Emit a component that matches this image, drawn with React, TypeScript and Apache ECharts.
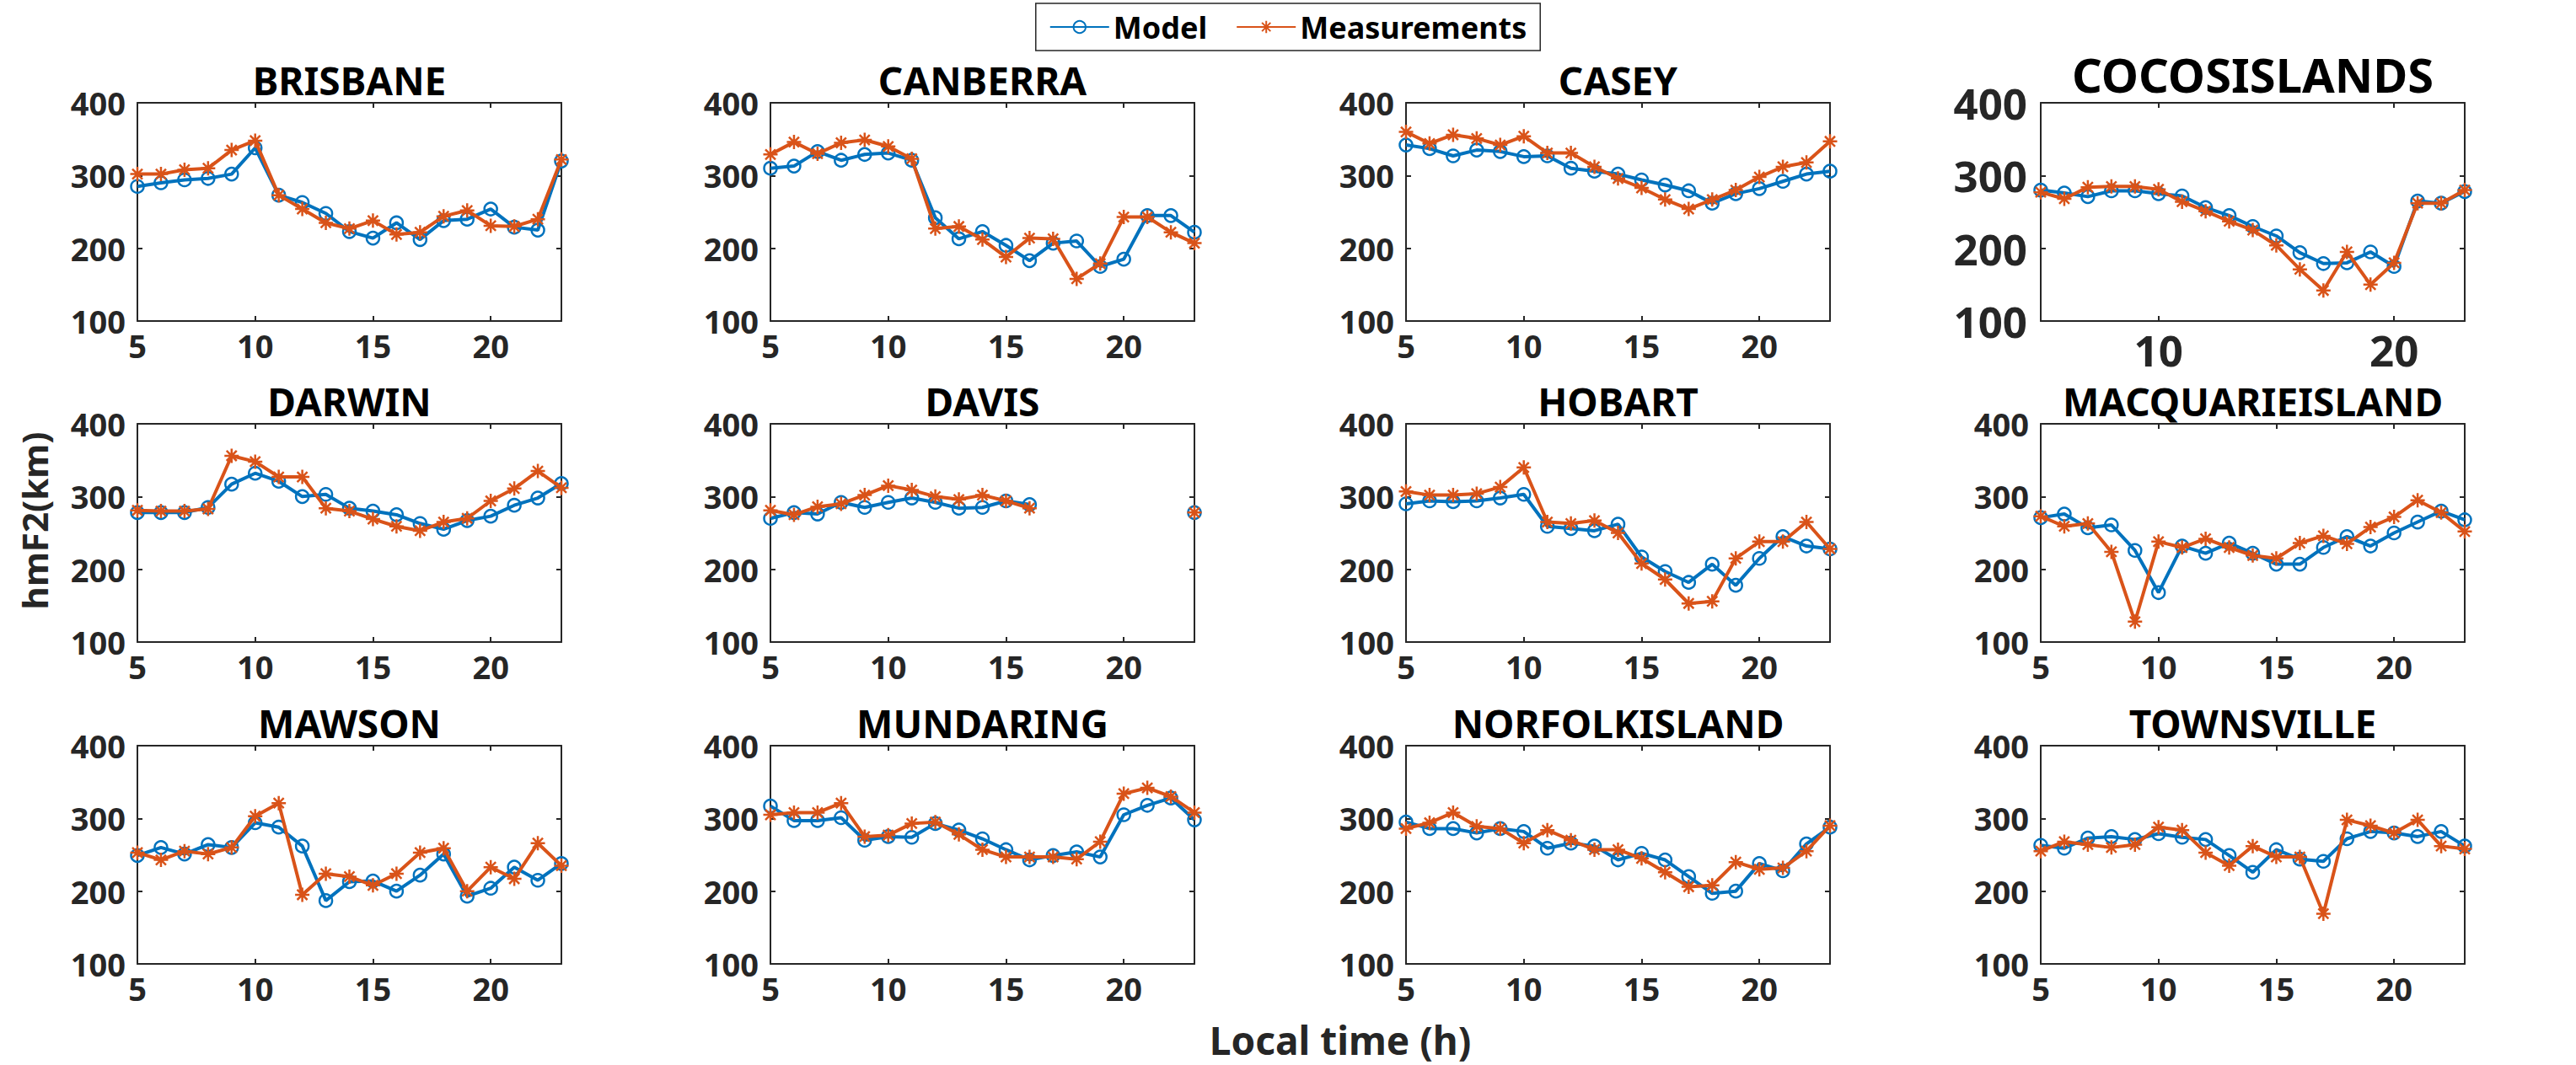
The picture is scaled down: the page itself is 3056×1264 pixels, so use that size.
import React, { useEffect, useRef } from "react";
import * as echarts from "echarts";

const hours = [5, 6, 7, 8, 9, 10, 11, 12, 13, 14, 15, 16, 17, 18, 19, 20, 21, 22, 23];
const xTickValues = [5, 10, 15, 20];
const xTickValuesBig = [10, 20];
const yTicks = { min: 100, max: 400, interval: 100 };

const stationNames = [
  "BRISBANE", "CANBERRA", "CASEY", "COCOSISLANDS",
  "DARWIN", "DAVIS", "HOBART", "MACQUARIEISLAND",
  "MAWSON", "MUNDARING", "NORFOLKISLAND", "TOWNSVILLE",
];

const brisbaneModel = [285, 290, 294, 296, 302, 338, 273, 263, 248, 223, 214, 235, 212, 238, 240, 254, 229, 225, 320];
const brisbaneMeas = [302, 302, 308, 310, 335, 348, 273, 254, 235, 227, 238, 219, 222, 244, 252, 231, 230, 240, 322];
const canberraModel = [310, 313, 333, 321, 329, 331, 321, 242, 213, 223, 204, 183, 207, 210, 175, 185, 245, 245, 222];
const canberraMeas = [329, 346, 330, 345, 349, 340, 323, 227, 230, 212, 188, 214, 213, 158, 179, 243, 243, 222, 207];
const caseyModel = [342, 337, 327, 335, 333, 326, 327, 310, 306, 302, 294, 287, 279, 262, 275, 282, 292, 302, 306];
const caseyMeas = [360, 344, 356, 351, 342, 354, 331, 331, 312, 296, 283, 267, 254, 267, 280, 298, 312, 318, 347];
const cocosModel = [280, 276, 271, 279, 279, 275, 272, 256, 245, 230, 217, 194, 179, 180, 195, 175, 265, 262, 278];
const cocosMeas = [277, 268, 284, 285, 285, 281, 264, 251, 237, 225, 204, 171, 142, 195, 150, 180, 262, 262, 280];
const darwinModel = [278, 278, 278, 285, 317, 332, 321, 300, 303, 284, 280, 275, 263, 255, 267, 273, 288, 298, 318];
const darwinMeas = [281, 280, 280, 283, 356, 348, 327, 327, 284, 280, 269, 259, 253, 265, 270, 294, 311, 335, 312];
const davisModel = [270, 278, 276, 292, 285, 292, 298, 292, 284, 285, 294, 289, null, null, null, null, null, null, 278];
const davisMeas = [281, 275, 286, 290, 302, 315, 309, 300, 296, 302, 294, 284, null, null, null, null, null, null, 278];
const hobartModel = [290, 294, 293, 294, 298, 303, 259, 256, 253, 262, 217, 197, 182, 207, 178, 215, 245, 232, 228];
const hobartMeas = [307, 302, 302, 304, 313, 340, 265, 263, 267, 250, 208, 186, 153, 156, 215, 238, 238, 265, 228];
const macquarieModel = [271, 276, 257, 261, 226, 168, 232, 222, 236, 222, 207, 207, 230, 245, 232, 250, 265, 280, 268];
const macquarieMeas = [273, 259, 263, 224, 128, 238, 230, 242, 230, 219, 215, 236, 246, 235, 258, 272, 295, 278, 252];
const mawsonModel = [249, 260, 251, 264, 260, 294, 288, 262, 187, 213, 214, 200, 222, 251, 193, 204, 233, 215, 238];
const mawsonMeas = [253, 243, 255, 251, 260, 303, 321, 195, 224, 220, 208, 224, 253, 259, 200, 233, 217, 266, 235];
const mundaringModel = [317, 297, 297, 301, 270, 275, 274, 293, 284, 272, 257, 243, 249, 254, 247, 305, 318, 328, 298];
const mundaringMeas = [305, 308, 308, 321, 275, 277, 293, 295, 278, 257, 247, 247, 247, 244, 268, 334, 342, 330, 308];
const norfolkModel = [295, 286, 286, 280, 286, 282, 259, 266, 262, 243, 252, 243, 220, 197, 200, 238, 228, 265, 288];
const norfolkMeas = [286, 294, 308, 289, 286, 266, 284, 270, 257, 257, 245, 226, 206, 208, 240, 230, 232, 255, 290];
const townsvilleModel = [263, 259, 273, 275, 271, 279, 274, 271, 249, 226, 257, 244, 241, 272, 282, 280, 275, 282, 262];
const townsvilleMeas = [255, 268, 264, 260, 264, 288, 284, 253, 235, 262, 247, 247, 169, 298, 290, 280, 298, 262, 258];

const modelSeries = [
  brisbaneModel, canberraModel, caseyModel, cocosModel,
  darwinModel, davisModel, hobartModel, macquarieModel,
  mawsonModel, mundaringModel, norfolkModel, townsvilleModel,
];
const measSeries = [
  brisbaneMeas, canberraMeas, caseyMeas, cocosMeas,
  darwinMeas, davisMeas, hobartMeas, macquarieMeas,
  mawsonMeas, mundaringMeas, norfolkMeas, townsvilleMeas,
];

const BLUE = "#0072BD";
const ORANGE = "#D95319";
const AXIS = "#262626";
const FONT = '"Noto Sans", "Open Sans", sans-serif';
const ASTERISK = "path://M0,-10L0,10M-10,0L10,0M-7.07,-7.07L7.07,7.07M-7.07,7.07L7.07,-7.07";

const colLeft = [163, 914, 1668, 2421];
const rowTop = [122, 503, 885];
const gridW = 503;
const gridH = 259;

function buildOption() {
  const grid: any[] = [];
  const xAxis: any[] = [];
  const yAxis: any[] = [];
  const series: any[] = [];
  const graphic: any[] = [];

  stationNames.forEach((name, i) => {
    const r = Math.floor(i / 4);
    const c = i % 4;
    const big = i === 3;
    const labelSize = big ? 51 : 38;
    grid.push({ left: colLeft[c], top: rowTop[r], width: gridW, height: gridH });
    const lineStyle = { color: AXIS, width: 2 };
    const tickVals = big ? xTickValuesBig : xTickValues;
    xAxis.push({
      gridIndex: i, type: "value", min: 5, max: 23, position: "bottom",
      axisLine: { show: true, onZero: false, lineStyle },
      axisTick: { show: true, inside: true, length: 6, lineStyle, customValues: tickVals },
      axisLabel: {
        show: true, customValues: tickVals, margin: big ? 8 : 10,
        fontSize: labelSize, lineHeight: labelSize, fontWeight: "bold", fontFamily: FONT, color: AXIS,
      },
      splitLine: { show: false },
    });
    xAxis.push({
      gridIndex: i, type: "value", min: 5, max: 23, position: "top",
      axisLine: { show: true, onZero: false, lineStyle },
      axisTick: { show: true, inside: true, length: 6, lineStyle, customValues: tickVals },
      axisLabel: { show: false },
      splitLine: { show: false },
    });
    yAxis.push({
      gridIndex: i, type: "value", ...yTicks, position: "left",
      axisLine: { show: true, onZero: false, lineStyle },
      axisTick: { show: true, inside: true, length: 6, lineStyle },
      axisLabel: {
        show: true, margin: big ? 16 : 14,
        fontSize: labelSize, fontWeight: "bold", fontFamily: FONT, color: AXIS,
      },
      splitLine: { show: false },
    });
    yAxis.push({
      gridIndex: i, type: "value", ...yTicks, position: "right",
      axisLine: { show: true, onZero: false, lineStyle },
      axisTick: { show: true, inside: true, length: 6, lineStyle },
      axisLabel: { show: false },
      splitLine: { show: false },
    });

    const toData = (arr: (number | null)[]) => hours.map((h, k) => [h, arr[k] == null ? "-" : arr[k]]);
    series.push({
      type: "line", name: "Model", xAxisIndex: 2 * i, yAxisIndex: 2 * i,
      data: toData(modelSeries[i]), connectNulls: false,
      symbol: "circle", symbolSize: 15, showSymbol: true, showAllSymbol: true,
      lineStyle: { color: BLUE, width: 4 },
      itemStyle: { color: "rgba(255,255,255,0)", borderColor: BLUE, borderWidth: 2.5 },
      emphasis: { disabled: true },
      z: 2,
    });
    series.push({
      type: "line", name: "Measurements", xAxisIndex: 2 * i, yAxisIndex: 2 * i,
      data: toData(measSeries[i]), connectNulls: false,
      symbol: ASTERISK, symbolSize: 17, showSymbol: true, showAllSymbol: true,
      lineStyle: { color: ORANGE, width: 4 },
      itemStyle: { color: ORANGE, borderColor: ORANGE, borderWidth: 2.5 },
      emphasis: { disabled: true },
      z: 3,
    });

    const titleSize = big ? 56 : 46;
    graphic.push({
      type: "text",
      x: colLeft[c] + gridW / 2,
      y: rowTop[r] - (big ? 34 : 27),
      style: {
        text: name, font: `bold ${titleSize}px ${FONT}`, fill: "#000",
        textAlign: "center", align: "center", textVerticalAlign: "middle", verticalAlign: "middle",
      },
    });
  });

  graphic.push({
    type: "text", x: 40, y: 618, rotation: Math.PI / 2,
    style: {
      text: "hmF2(km)", font: `bold 42px ${FONT}`, fill: AXIS,
      textAlign: "center", align: "center", textVerticalAlign: "middle", verticalAlign: "middle",
    },
  });
  graphic.push({
    type: "text", x: 1590, y: 1234,
    style: {
      text: "Local time (h)", font: `bold 46px ${FONT}`, fill: AXIS,
      textAlign: "center", align: "center", textVerticalAlign: "middle", verticalAlign: "middle",
    },
  });

  return {
    animation: false,
    backgroundColor: "#fff",
    grid, xAxis, yAxis, series, graphic,
    legend: {
      data: ["Model", "Measurements"],
      top: 4, left: "center",
      itemWidth: 70, itemHeight: 18, itemGap: 34,
      padding: [10, 16],
      borderColor: AXIS, borderWidth: 1.5, backgroundColor: "#fff",
      textStyle: { fontSize: 36, fontWeight: "bold", fontFamily: FONT, color: "#000" },
      selectedMode: false,
    },
  };
}

export default function App() {
  const ref = useRef<HTMLDivElement>(null);
  useEffect(() => {
    if (!ref.current) return;
    const chart = echarts.init(ref.current, undefined, { renderer: "svg" });
    chart.setOption(buildOption() as any);
    return () => chart.dispose();
  }, []);
  return (
    <div
      ref={ref}
      style={{ position: "fixed", left: 0, top: 0, width: 3056, height: 1264, background: "#fff" }}
    />
  );
}
